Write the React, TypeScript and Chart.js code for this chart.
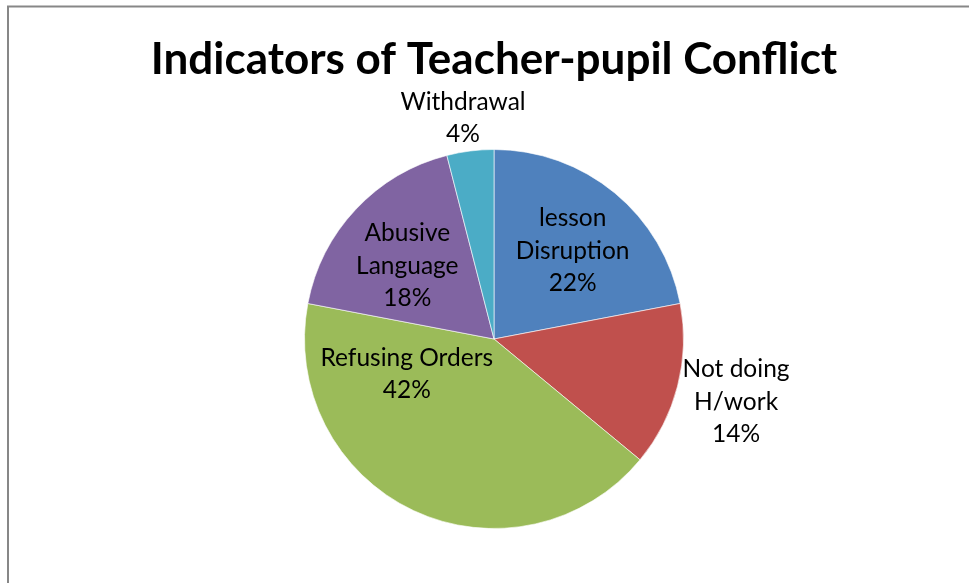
import React, { useEffect, useRef } from "react";
import { Chart, registerables } from "chart.js";

Chart.register(...registerables);

const TITLE = "Indicators of Teacher-pupil Conflict";
const categories = ["lesson Disruption", "Not doing H/work", "Refusing Orders", "Abusive Language", "Withdrawal"];
const labelLines = [["lesson", "Disruption"], ["Not doing", "H/work"], ["Refusing Orders"], ["Abusive", "Language"], ["Withdrawal"]];
const values = [22, 14, 42, 18, 4];
const colors = ["#4F81BD", "#C0504D", "#9BBB59", "#8064A2", "#4BACC6"];

// label placement style: radial fraction of radius and angular offset (deg) from slice mid
const labelRadial = [0.624, 1.32, 0.496, 0.599, 1.176];
const labelAngleOffset = [2.1, 0.2, 42.9, -3, -0.8];

const FONT = "Lato, 'Open Sans', sans-serif";

const framePlugin = {
  id: "frame",
  beforeDraw(chart: any) {
    const ctx = chart.ctx;
    ctx.save();
    ctx.fillStyle = "#fff";
    ctx.fillRect(0, 0, chart.width, chart.height);
    ctx.strokeStyle = "#878787";
    ctx.lineWidth = 2;
    ctx.beginPath();
    ctx.moveTo(8, chart.height);
    ctx.lineTo(8, 6.5);
    ctx.lineTo(chart.width, 6.5);
    ctx.stroke();
    ctx.restore();
  },
};

const labelPlugin = {
  id: "sliceLabels",
  afterDatasetsDraw(chart: any) {
    const ctx = chart.ctx;
    const area = chart.chartArea;
    ctx.save();
    ctx.fillStyle = "#000";
    ctx.textAlign = "center";
    ctx.textBaseline = "alphabetic";
    ctx.font = `bold 44px ${FONT}`;
    ctx.fillText(TITLE, (area.left + area.right) / 2, 74);

    const meta = chart.getDatasetMeta(0);
    ctx.font = `24.5px ${FONT}`;
    ctx.textBaseline = "middle";
    const total = values.reduce((a, b) => a + b, 0);
    meta.data.forEach((arc: any, i: number) => {
      const p = arc.getProps(["x", "y", "startAngle", "endAngle", "outerRadius"], true);
      const mid = (p.startAngle + p.endAngle) / 2 + (labelAngleOffset[i] * Math.PI) / 180;
      const r = p.outerRadius * labelRadial[i];
      const cx = p.x + Math.cos(mid) * r;
      const cy = p.y + Math.sin(mid) * r;
      const pct = Math.round((values[i] / total) * 100) + "%";
      const lines = [...labelLines[i], pct];
      const lh = 32.5;
      lines.forEach((t, j) => {
        ctx.fillText(t, cx, cy + (j - (lines.length - 1) / 2) * lh);
      });
    });
    ctx.restore();
  },
};

export default function App() {
  const ref = useRef<HTMLCanvasElement>(null);
  useEffect(() => {
    if (!ref.current) return;
    const chart = new Chart(ref.current, {
      type: "pie",
      data: {
        labels: categories,
        datasets: [
          {
            data: values,
            backgroundColor: colors,
            borderColor: "rgba(255,255,255,0.6)",
            borderWidth: 1,
          },
        ],
      },
      options: {
        responsive: false,
        animation: false,
        layout: { padding: { top: 149, bottom: 54, left: 294, right: 275 } },
        plugins: {
          legend: { display: false },
          title: { display: false },
          tooltip: { enabled: false },
        },
      },
      plugins: [framePlugin, labelPlugin],
    });
    return () => chart.destroy();
  }, []);
  return (
    <div style={{ position: "absolute", left: 0, top: 0, width: 969, height: 583, background: "#fff" }}>
      <canvas ref={ref} width={969} height={583} style={{ display: "block" }} />
    </div>
  );
}
